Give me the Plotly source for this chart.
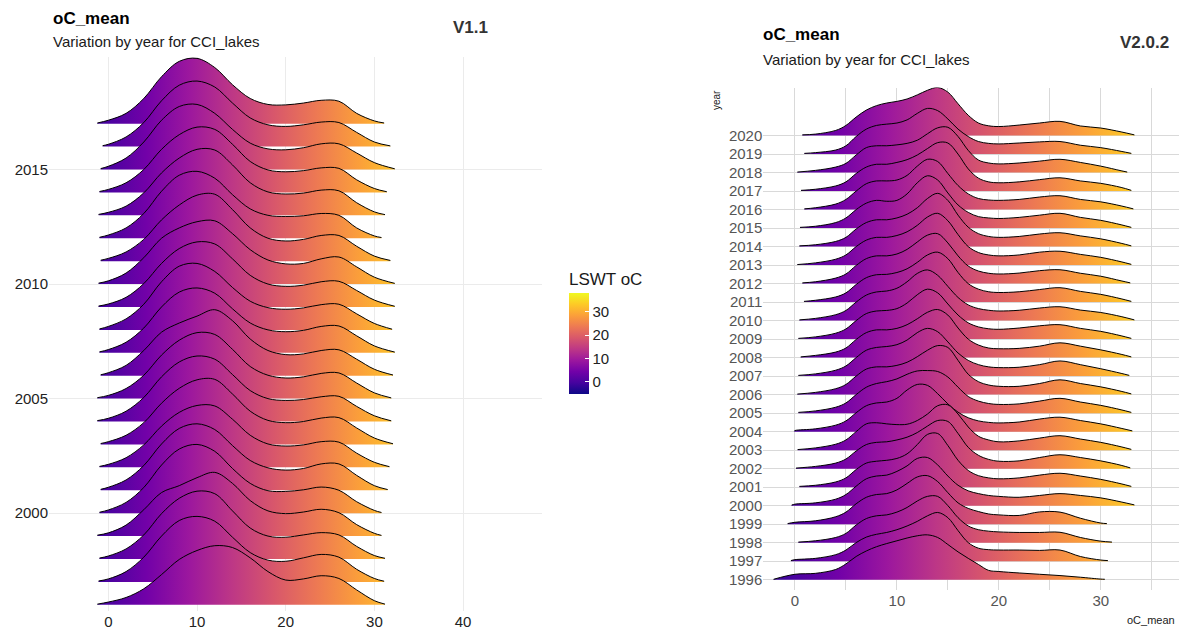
import plotly.graph_objects as go
import plotly.colors as pc

W, H = 1179, 632
FONT = "Liberation Sans, Arial, sans-serif"

# ---------------- V1.1 ridges (left panel) ----------------
L_YEARS = [2017, 2016, 2015, 2014, 2013, 2012, 2011, 2010, 2009, 2008, 2007,
           2006, 2005, 2004, 2003, 2002, 2001, 2000, 1999, 1998, 1997, 1996]
L_START = [-1.24, -0.64, -0.86, -1.0, -1.1, -1.0, -0.86, -1.1, -1.1, -1.0, -1.0,
           -0.86, -1.24, -1.24, -0.86, -1.0, -0.86, -1.0, -1.24, -1.0, -1.1, -1.24]
L_END = [31.1, 31.8, 32.3, 31.4, 31.2, 30.8, 31.8, 32.3, 32.3, 32.0, 32.3,
         32.1, 31.9, 31.9, 32.1, 31.7, 31.5, 30.8, 30.8, 31.2, 31.1, 31.2]
L_GRID = [0, 2, 4, 6, 8, 10, 12, 14, 16, 18, 20, 22, 24, 26, 28, 30]
# ridge heights (in row units): [at start] + one per L_GRID value + [at end]
L_HEIGHTS = [
    [0.03, 0.15, 0.45, 1.10, 2.05, 2.72, 2.85, 2.45, 1.70, 1.10, 0.84, 0.82, 0.90, 1.02, 0.98, 0.45, 0.12, 0.03],
    [0.04, 0.10, 0.42, 1.05, 2.00, 2.68, 2.86, 2.60, 1.90, 1.25, 0.95, 0.88, 0.95, 1.07, 1.05, 0.62, 0.20, 0.03],
    [0.04, 0.14, 0.50, 1.20, 2.15, 2.75, 2.84, 2.45, 1.75, 1.15, 0.90, 0.86, 0.95, 1.12, 1.12, 0.72, 0.30, 0.03],
    [0.04, 0.13, 0.42, 1.00, 1.88, 2.52, 2.85, 2.75, 2.10, 1.35, 0.98, 0.90, 0.95, 1.07, 1.05, 0.55, 0.17, 0.03],
    [0.04, 0.13, 0.40, 0.98, 1.85, 2.50, 2.88, 2.85, 2.20, 1.42, 1.02, 0.93, 0.97, 1.10, 1.07, 0.55, 0.15, 0.03],
    [0.04, 0.14, 0.45, 1.08, 2.05, 2.75, 2.92, 2.62, 1.90, 1.28, 1.00, 0.95, 0.98, 1.08, 1.00, 0.45, 0.10, 0.03],
    [0.04, 0.12, 0.40, 0.95, 1.80, 2.45, 2.88, 2.92, 2.25, 1.45, 1.00, 0.88, 0.95, 1.12, 1.12, 0.65, 0.22, 0.03],
    [0.04, 0.14, 0.48, 1.15, 2.00, 2.45, 2.72, 2.76, 2.20, 1.50, 1.05, 0.88, 0.90, 1.10, 1.18, 0.75, 0.30, 0.03],
    [0.04, 0.13, 0.42, 1.02, 1.90, 2.55, 2.84, 2.75, 2.10, 1.38, 1.00, 0.90, 0.95, 1.10, 1.12, 0.72, 0.30, 0.03],
    [0.04, 0.15, 0.48, 1.12, 2.10, 2.78, 2.90, 2.55, 1.85, 1.25, 0.97, 0.90, 0.96, 1.10, 1.12, 0.70, 0.28, 0.03],
    [0.04, 0.14, 0.46, 1.08, 2.00, 2.65, 2.83, 2.60, 1.92, 1.30, 1.00, 0.92, 0.98, 1.15, 1.17, 0.74, 0.30, 0.03],
    [0.04, 0.13, 0.45, 1.10, 1.90, 2.30, 2.60, 2.88, 2.40, 1.60, 1.10, 0.92, 0.95, 1.10, 1.13, 0.72, 0.28, 0.03],
    [0.04, 0.14, 0.44, 1.02, 1.90, 2.55, 2.88, 2.80, 2.15, 1.40, 1.02, 0.90, 0.95, 1.10, 1.12, 0.68, 0.25, 0.03],
    [0.04, 0.14, 0.45, 1.05, 1.95, 2.60, 2.86, 2.72, 2.05, 1.35, 1.00, 0.92, 0.96, 1.08, 1.10, 0.66, 0.25, 0.03],
    [0.04, 0.12, 0.40, 0.95, 1.80, 2.45, 2.82, 2.84, 2.20, 1.45, 1.05, 0.95, 1.00, 1.15, 1.17, 0.72, 0.28, 0.03],
    [0.04, 0.13, 0.42, 0.98, 1.80, 2.40, 2.70, 2.68, 2.10, 1.40, 1.02, 0.93, 0.98, 1.12, 1.10, 0.62, 0.22, 0.03],
    [0.04, 0.13, 0.45, 1.08, 2.02, 2.70, 2.90, 2.65, 1.95, 1.30, 0.98, 0.88, 0.95, 1.15, 1.15, 0.65, 0.20, 0.03],
    [0.04, 0.14, 0.47, 1.12, 2.10, 2.80, 3.00, 2.70, 1.95, 1.30, 0.98, 0.95, 1.02, 1.14, 1.00, 0.50, 0.12, 0.03],
    [0.04, 0.14, 0.48, 1.15, 1.90, 2.20, 2.55, 2.78, 2.30, 1.55, 1.10, 0.98, 1.05, 1.17, 1.02, 0.50, 0.12, 0.03],
    [0.04, 0.13, 0.44, 1.05, 1.98, 2.65, 2.96, 2.85, 2.10, 1.35, 1.00, 0.95, 1.05, 1.15, 1.05, 0.55, 0.15, 0.03],
    [0.04, 0.13, 0.45, 1.08, 2.00, 2.68, 2.86, 2.65, 1.95, 1.28, 0.95, 0.90, 1.05, 1.20, 1.08, 0.55, 0.15, 0.03],
    [0.03, 0.12, 0.32, 0.70, 1.32, 1.98, 2.37, 2.58, 2.50, 2.05, 1.45, 1.08, 1.13, 1.27, 1.15, 0.65, 0.18, 0.03],
]

# ---------------- V2.0.2 ridges (right panel) ----------------
N = None
R_YEARS = list(range(2020, 1995, -1))
R_START = [0.72, 0.92, 0.23, 0.59, 0.92, 0.49, 0.43, 0.23, 0.72, 0.88, 0.43, 0.33, 0.56,
           0.33, 0.23, 0.33, -0.07, 0.26, 0.10, 0.43, -0.33, -0.72, 0.33, -0.40, -2.10]
R_END = [33.3, 33.0, 32.6, 33.0, 33.2, 33.0, 33.0, 33.0, 32.9, 33.0, 33.3, 33.0, 33.0,
         32.8, 33.0, 33.0, 33.1, 33.0, 32.9, 33.0, 33.3, 30.6, 31.1, 30.7, 30.4]
R_GRID = [0, 2, 4, 5, 6, 7, 8, 9, 10, 11, 12, 13, 14, 15, 16, 17, 18, 19, 20, 22, 24, 26, 28, 30, 32]
R_HEIGHTS = [
    [0.04, N, 0.08, 0.28, 0.55, 1.00, 1.38, 1.62, 1.76, 1.85, 1.98, 2.20, 2.45, 2.60, 2.35, 1.72, 1.10, 0.68, 0.53, 0.49, 0.57, 0.68, 0.77, 0.52, 0.41, 0.20, 0.04],
    [0.04, N, 0.08, 0.22, 0.45, 0.95, 1.35, 1.55, 1.62, 1.68, 1.85, 2.20, 2.47, 2.35, 1.90, 1.35, 0.95, 0.68, 0.58, 0.55, 0.60, 0.66, 0.68, 0.48, 0.35, 0.15, 0.04],
    [0.03, N, 0.12, 0.30, 0.50, 0.95, 1.35, 1.45, 1.45, 1.50, 1.58, 1.75, 2.10, 2.42, 2.45, 1.95, 1.20, 0.68, 0.52, 0.47, 0.52, 0.62, 0.72, 0.55, 0.35, 0.10, 0.03],
    [0.04, N, 0.10, 0.28, 0.50, 0.95, 1.30, 1.45, 1.45, 1.55, 1.70, 1.95, 2.30, 2.62, 2.60, 2.00, 1.20, 0.70, 0.50, 0.45, 0.50, 0.62, 0.72, 0.55, 0.42, 0.20, 0.04],
    [0.04, N, 0.10, 0.30, 0.55, 1.00, 1.40, 1.55, 1.55, 1.60, 1.85, 2.35, 2.72, 2.60, 1.95, 1.30, 0.85, 0.60, 0.52, 0.50, 0.55, 0.68, 0.75, 0.55, 0.42, 0.20, 0.04],
    [0.04, N, 0.10, 0.30, 0.55, 1.00, 1.35, 1.50, 1.45, 1.50, 1.85, 2.45, 2.83, 2.60, 1.90, 1.25, 0.85, 0.62, 0.55, 0.52, 0.58, 0.70, 0.80, 0.58, 0.42, 0.18, 0.04],
    [0.04, N, 0.10, 0.28, 0.50, 0.95, 1.30, 1.45, 1.45, 1.55, 1.75, 2.10, 2.60, 2.88, 2.50, 1.70, 1.05, 0.70, 0.55, 0.50, 0.55, 0.68, 0.75, 0.58, 0.42, 0.18, 0.04],
    [0.03, N, 0.12, 0.32, 0.55, 1.00, 1.35, 1.50, 1.50, 1.60, 1.80, 2.15, 2.60, 2.80, 2.40, 1.65, 1.00, 0.68, 0.55, 0.50, 0.55, 0.70, 0.75, 0.58, 0.42, 0.18, 0.04],
    [0.04, N, 0.10, 0.30, 0.52, 0.98, 1.35, 1.50, 1.50, 1.60, 1.85, 2.25, 2.62, 2.70, 2.20, 1.50, 0.95, 0.68, 0.56, 0.52, 0.57, 0.70, 0.75, 0.56, 0.40, 0.15, 0.04],
    [0.04, N, 0.10, 0.28, 0.50, 0.95, 1.32, 1.48, 1.50, 1.60, 1.80, 2.15, 2.55, 2.70, 2.35, 1.60, 1.00, 0.70, 0.56, 0.52, 0.56, 0.68, 0.78, 0.58, 0.42, 0.18, 0.04],
    [0.04, N, 0.12, 0.32, 0.55, 1.00, 1.38, 1.55, 1.60, 1.75, 2.10, 2.55, 2.74, 2.45, 1.85, 1.25, 0.85, 0.65, 0.56, 0.52, 0.56, 0.68, 0.75, 0.57, 0.44, 0.22, 0.04],
    [0.04, N, 0.12, 0.32, 0.55, 1.00, 1.38, 1.52, 1.55, 1.65, 1.95, 2.40, 2.70, 2.50, 1.90, 1.30, 0.88, 0.66, 0.56, 0.53, 0.60, 0.72, 0.78, 0.58, 0.42, 0.18, 0.04],
    [0.04, N, 0.12, 0.30, 0.52, 0.98, 1.35, 1.50, 1.50, 1.58, 1.78, 2.10, 2.45, 2.60, 2.30, 1.60, 1.00, 0.68, 0.52, 0.48, 0.50, 0.62, 0.80, 0.62, 0.42, 0.18, 0.04],
    [0.04, N, 0.12, 0.32, 0.55, 1.00, 1.40, 1.55, 1.60, 1.70, 1.95, 2.35, 2.58, 2.40, 1.85, 1.25, 0.85, 0.62, 0.50, 0.46, 0.48, 0.62, 0.82, 0.62, 0.40, 0.15, 0.04],
    [0.03, N, 0.12, 0.32, 0.55, 1.00, 1.38, 1.50, 1.50, 1.58, 1.75, 2.05, 2.40, 2.65, 2.55, 1.85, 1.10, 0.70, 0.52, 0.45, 0.45, 0.60, 0.80, 0.60, 0.42, 0.18, 0.04],
    [0.04, N, 0.12, 0.32, 0.55, 1.00, 1.40, 1.60, 1.70, 1.85, 2.10, 2.28, 2.30, 2.25, 1.95, 1.40, 0.90, 0.65, 0.52, 0.47, 0.50, 0.65, 0.80, 0.60, 0.42, 0.18, 0.04],
    [0.03, 0.06, 0.15, 0.35, 0.58, 1.02, 1.40, 1.55, 1.60, 1.80, 2.25, 2.55, 2.50, 2.05, 1.50, 1.05, 0.75, 0.58, 0.50, 0.47, 0.52, 0.68, 0.78, 0.60, 0.42, 0.18, 0.04],
    [0.03, N, 0.12, 0.32, 0.55, 1.00, 1.42, 1.48, 1.42, 1.38, 1.40, 1.60, 1.95, 2.40, 2.45, 1.95, 1.25, 0.75, 0.55, 0.45, 0.50, 0.65, 0.78, 0.60, 0.42, 0.18, 0.04],
    [0.03, N, 0.12, 0.30, 0.52, 0.95, 1.30, 1.42, 1.45, 1.55, 1.70, 1.95, 2.30, 2.60, 2.55, 1.90, 1.15, 0.72, 0.50, 0.40, 0.42, 0.60, 0.75, 0.60, 0.42, 0.18, 0.04],
    [0.04, N, 0.10, 0.28, 0.50, 0.95, 1.30, 1.40, 1.45, 1.55, 1.80, 2.30, 2.85, 2.90, 2.25, 1.45, 0.90, 0.62, 0.50, 0.45, 0.50, 0.65, 0.75, 0.60, 0.42, 0.18, 0.04],
    [0.03, 0.08, 0.15, 0.35, 0.60, 1.05, 1.45, 1.60, 1.65, 1.85, 2.15, 2.55, 2.60, 2.20, 1.60, 1.10, 0.80, 0.65, 0.55, 0.50, 0.45, 0.55, 0.65, 0.55, 0.42, 0.20, 0.04],
    [0.03, 0.10, 0.18, 0.40, 0.65, 1.10, 1.45, 1.60, 1.65, 1.85, 2.20, 2.55, 2.62, 2.30, 1.70, 1.15, 0.85, 0.68, 0.55, 0.50, 0.47, 0.66, 0.65, 0.32, 0.06, N, 0.03],
    [0.03, N, 0.10, 0.28, 0.50, 0.95, 1.30, 1.45, 1.50, 1.65, 1.90, 2.25, 2.50, 2.50, 2.00, 1.35, 0.90, 0.70, 0.62, 0.58, 0.55, 0.55, 0.56, 0.28, 0.08, N, 0.03],
    [0.03, 0.08, 0.15, 0.35, 0.60, 1.00, 1.30, 1.45, 1.55, 1.70, 1.90, 2.15, 2.45, 2.63, 2.35, 1.65, 1.00, 0.70, 0.62, 0.60, 0.60, 0.58, 0.60, 0.25, 0.06, N, 0.03],
    [0.02, 0.29, 0.34, 0.55, 0.85, 1.25, 1.55, 1.78, 1.95, 2.10, 2.25, 2.37, 2.42, 2.28, 1.90, 1.50, 1.15, 0.82, 0.50, 0.44, 0.36, 0.29, 0.22, 0.13, 0.03, N, 0.02],
]

# colour scale limits of the LSWT legend
LSWT_MIN, LSWT_MAX = -5.3, 37.9
LEGEND_TICKS = [0, 10, 20, 30]

PLASMA = [[i / (len(pc.sequential.Plasma) - 1), c] for i, c in enumerate(pc.sequential.Plasma)]


def add_ridges(fig, years, starts, ends, grid, heights, xa, ya):
    """Draw ridges back to front: the lowest year ends up on top."""
    for year, x0, x1, hs in zip(years, starts, ends, heights):
        xs = [x0]
        ys = [year + hs[0]]
        for g, h in zip(grid, hs[1:-1]):
            if h is not None:
                xs.append(g)
                ys.append(year + h)
        xs.append(x1)
        ys.append(year + hs[-1])
        # baseline of the ridge
        fig.add_trace(go.Scatter(
            x=[x0, x1], y=[year, year], mode="lines", line=dict(width=0),
            xaxis=xa, yaxis=ya, showlegend=False, hoverinfo="skip"))
        # density curve, filled down to the baseline with the temperature gradient
        fig.add_trace(go.Scatter(
            x=xs, y=ys, mode="lines",
            line=dict(color="black", width=1, shape="spline", smoothing=1),
            fill="tonexty",
            fillgradient=dict(type="horizontal", colorscale=PLASMA,
                              start=LSWT_MIN, stop=LSWT_MAX),
            xaxis=xa, yaxis=ya, showlegend=False, hoverinfo="skip"))


fig = go.Figure()
add_ridges(fig, L_YEARS, L_START, L_END, L_GRID, L_HEIGHTS, "x", "y")
add_ridges(fig, R_YEARS, R_START, R_END, R_GRID, R_HEIGHTS, "x2", "y2")

# colour legend for the left panel
fig.add_trace(go.Scatter(
    x=[-100], y=[2000], mode="markers", xaxis="x", yaxis="y",
    showlegend=False, hoverinfo="skip",
    marker=dict(size=1, opacity=0, color=[0], colorscale=PLASMA,
                cmin=LSWT_MIN, cmax=LSWT_MAX, showscale=True,
                colorbar=dict(
                    x=569 / W, xanchor="left", y=1 - 394.3 / H, yanchor="bottom",
                    len=101, lenmode="pixels", thickness=20, thicknessmode="pixels",
                    outlinewidth=0, xpad=0, ypad=0,
                    tickvals=LEGEND_TICKS, ticks="inside", ticklen=4,
                    tickcolor="white", tickfont=dict(size=15, color="#222", family=FONT),
                    title=dict(text="")))))


def px_x(v):
    return v / W


def px_y(v):
    return 1 - v / H


axis_common = dict(zeroline=False, showline=False, ticks="", fixedrange=True)

fig.update_layout(
    width=W, height=H, autosize=False,
    margin=dict(l=0, r=0, t=0, b=0),
    paper_bgcolor="white", plot_bgcolor="white",
    font=dict(family=FONT),
    showlegend=False,
    xaxis=dict(domain=[px_x(49), px_x(542)], range=[-6.69, 48.9],
               tickvals=[0, 10, 20, 30, 40], showgrid=True, gridcolor="#ebebeb",
               gridwidth=1, tickfont=dict(size=15, color="#222"), anchor="y",
               **axis_common),
    yaxis=dict(domain=[px_y(611), px_y(57)], range=[1995.73, 2019.91],
               tickvals=[2000, 2005, 2010, 2015], showgrid=True, gridcolor="#ebebeb",
               gridwidth=1, tickfont=dict(size=15, color="#222"), anchor="x",
               **axis_common),
    xaxis2=dict(domain=[px_x(763.3), 1.0], range=[-3.11, 37.68],
                tickvals=[0, 5, 10, 15, 20, 25, 30, 35],
                ticktext=["0", "", "10", "", "20", "", "30", ""],
                showgrid=True, gridcolor="#d9d9d9", gridwidth=1,
                tickfont=dict(size=15, color="#555"), anchor="y2", **axis_common),
    yaxis2=dict(domain=[px_y(590), px_y(87.5)], range=[1995.44, 2022.6],
                tickvals=R_YEARS, ticktext=[str(y) for y in R_YEARS],
                showgrid=True, gridcolor="#d9d9d9", gridwidth=1,
                tickfont=dict(size=15, color="#555"), anchor="x2", **axis_common),
)


def note(text, x, y, size, bold=False, color="#000", xanchor="left", angle=0):
    fig.add_annotation(
        text=f"<b>{text}</b>" if bold else text,
        x=px_x(x), y=px_y(y), xref="paper", yref="paper",
        xanchor=xanchor, yanchor="middle", showarrow=False, textangle=angle,
        font=dict(size=size, color=color, family=FONT))


# left panel titles
note("oC_mean", 51, 18.5, 17, bold=True)
note("Variation by year for CCI_lakes", 51, 41, 15, color="#1a1a1a")
note("V1.1", 451, 27, 17, bold=True, color="#333")
note("LSWT oC", 567, 279, 17, color="#1a1a1a")

# right panel titles
note("oC_mean", 761, 35, 17, bold=True)
note("Variation by year for CCI_lakes", 761, 59, 15, color="#1a1a1a")
note("V2.0.2", 1118, 42, 17, bold=True, color="#333")
note("year", 717, 100, 10, color="#1a1a1a", xanchor="center", angle=-90)
note("oC_mean", 1177, 620, 11, color="#1a1a1a", xanchor="right")

fig.write_html("out.html")
